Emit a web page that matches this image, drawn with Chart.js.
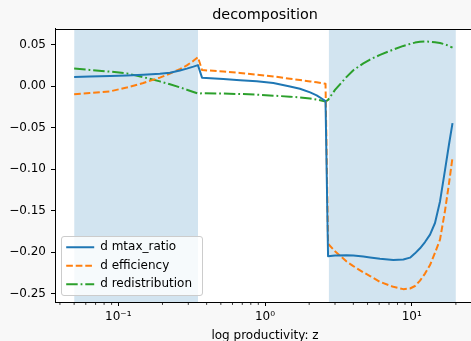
<!DOCTYPE html>
<html><head><meta charset="utf-8">
<script src="https://cdn.jsdelivr.net/npm/chart.js@4.4.1/dist/chart.umd.min.js"></script>
<style>
html,body{margin:0;padding:0;overflow:hidden;background:#f8f8f8;width:471px;height:341px}
canvas{display:block}
</style>
</head><body>
<canvas id="c" width="480" height="345"></canvas>
<script>
// ---- data ----
const zValues = [0.05, 0.064, 0.088, 0.114, 0.148, 0.192, 0.225, 0.263, 0.293, 0.325, 0.349, 0.372,
  0.52, 0.676, 0.878, 1.14, 1.48, 1.73, 2.03, 2.25, 2.585, 2.69, 3.0, 3.6, 4.0, 4.68, 5.2, 6.08,
  7.49, 8.77, 9.74, 10.53, 11.39, 12.32, 13.33, 14.41, 15.59, 16.87, 17.96, 18.97];
const mtaxRatio = [0.0112, 0.0116, 0.0122, 0.0128, 0.0138, 0.0150, 0.0162, 0.0190, 0.0212, 0.0236, 0.0255, 0.0103,
  0.0086, 0.0073, 0.0060, 0.0038, -0.0003, -0.0030, -0.0075, -0.0110, -0.0178, -0.2050, -0.2042, -0.2038, -0.2042, -0.2055, -0.2065, -0.2080,
  -0.2096, -0.2090, -0.2068, -0.2016, -0.1955, -0.1880, -0.1790, -0.1650, -0.1390, -0.1010, -0.0700, -0.0445];
const efficiency = [-0.0096, -0.0082, -0.0062, -0.0016, 0.0038, 0.0104, 0.0152, 0.0206, 0.0251, 0.0306, 0.0350, 0.0195,
  0.0177, 0.0160, 0.0140, 0.0118, 0.0090, 0.0075, 0.0058, 0.0048, 0.0030, -0.1900, -0.1990, -0.2115, -0.2170, -0.2245, -0.2290, -0.2360,
  -0.2420, -0.2448, -0.2440, -0.2410, -0.2345, -0.2260, -0.2157, -0.2010, -0.1850, -0.1500, -0.1170, -0.0860];
const redistribution = [0.0213, 0.0197, 0.0176, 0.0155, 0.0109, 0.0058, 0.0023, -0.0014, -0.0042, -0.0069, -0.0088, -0.0086,
  -0.0089, -0.0094, -0.0102, -0.0114, -0.0126, -0.0136, -0.0148, -0.0160, -0.0185, -0.0165, -0.0045, 0.0113, 0.0193, 0.0275, 0.0322, 0.0378,
  0.0442, 0.0486, 0.0510, 0.0526, 0.0535, 0.0539, 0.0537, 0.0531, 0.0522, 0.0505, 0.0486, 0.0466];
const seriesLabels = ['d mtax_ratio', 'd efficiency', 'd redistribution'];
const bandRanges = [[0.05, 0.35], [2.718, 20]];
const xMajorTicks = [0.1, 1, 10];
const xTickLabels = ['10\u207B\u00B9', '10\u2070', '10\u00B9'];
const xMinorTicks = [0.04, 0.05, 0.06, 0.07, 0.08, 0.09, 0.2, 0.3, 0.4, 0.5, 0.6, 0.7, 0.8, 0.9,
  2, 3, 4, 5, 6, 7, 8, 9, 20];
const yTicks = [0.05, 0, -0.05, -0.1, -0.15, -0.2, -0.25];
const yTickLabels = ['0.05', '0.00', '\u22120.05', '\u22120.10', '\u22120.15', '\u22120.20', '\u22120.25'];
const xMin = 0.03702, xMax = 27.0, yMin = -0.2603, yMax = 0.0694;
const titleText = 'decomposition';
const xTitle = 'log productivity: z';

// ---- chart ----
Chart.defaults.font.family = 'DejaVu Sans';
Chart.defaults.color = '#000';
const pts = arr => zValues.map((z, i) => ({x: z, y: arr[i]}));
const lineDs = (label, arr, color, dash) => ({
  label, data: pts(arr), borderColor: color, backgroundColor: color, borderWidth: 2,
  borderDash: dash, borderCapStyle: 'butt', borderJoinStyle: 'round',
  pointRadius: 0, pointStyle: 'line', fill: false, tension: 0
});
const bandDs = r => ({
  label: '_band', data: [{x: r[0], y: yMax}, {x: r[1], y: yMax}],
  borderWidth: 0, borderColor: 'rgba(0,0,0,0)', backgroundColor: 'rgba(31,119,180,0.2)',
  pointRadius: 0, fill: 'start', tension: 0
});

const decor = {
  id: 'decor',
  beforeLayout(chart) {
    const lg = chart.legend;
    if (lg) lg._layers = function () { return [{z: 1, draw: (ca) => lg.draw(ca)}]; };
  },
  afterLayout(chart) {
    const lg = chart.legend;
    if (!lg) return;
    lg.left = 59.7; lg.top = 234.8; lg.right = 215; lg.bottom = 305;
  },
  beforeDraw(chart) {
    const {ctx, chartArea: a} = chart;
    ctx.save();
    ctx.fillStyle = '#f8f8f8';
    ctx.fillRect(0, 0, chart.width, chart.height);
    ctx.fillStyle = '#ffffff';
    ctx.fillRect(a.left, a.top, a.right - a.left, a.bottom - a.top);
    ctx.restore();
  },
  afterDatasetsDraw(chart) {
    const ctx = chart.ctx;
    ctx.save();
    ctx.beginPath();
    ctx.roundRect(61.5, 236.5, 141, 59, 2.5);
    ctx.fillStyle = 'rgba(255,255,255,0.8)';
    ctx.fill();
    ctx.strokeStyle = '#cccccc';
    ctx.lineWidth = 1;
    ctx.stroke();
    ctx.restore();
  },
  afterDraw(chart) {
    const {ctx, chartArea: a} = chart;
    const xs = chart.scales.x;
    ctx.save();
    ctx.strokeStyle = '#000';
    ctx.lineWidth = 0.8;
    const yb = Math.round(a.bottom) + 0.5;
    xMinorTicks.forEach(v => {
      const px = xs.getPixelForValue(v);
      if (px < a.left || px > a.right) return;
      ctx.beginPath();
      ctx.moveTo(px, yb);
      ctx.lineTo(px, yb + 2.4);
      ctx.stroke();
    });
    ctx.lineWidth = 1;
    const yt = Math.round(a.top) + 0.5;
    ctx.beginPath();
    ctx.moveTo(Math.round(a.left) + 0.5, yt);
    ctx.lineTo(Math.round(a.right) + 0.5, yt);
    ctx.lineTo(Math.round(a.right) + 0.5, yb);
    ctx.stroke();
    ctx.restore();
  }
};

new Chart(document.getElementById('c'), {
  type: 'line',
  data: {
    datasets: [
      lineDs(seriesLabels[0], mtaxRatio, '#1f77b4', []),
      lineDs(seriesLabels[1], efficiency, '#ff7f0e', [6.66, 2.88]),
      lineDs(seriesLabels[2], redistribution, '#2ca02c', [11.5, 2.9, 1.8, 2.9]),
      bandDs(bandRanges[0]),
      bandDs(bandRanges[1])
    ]
  },
  options: {
    responsive: false, animation: false, devicePixelRatio: 1, events: [],
    layout: {padding: {left: 0, right: 5, top: 0, bottom: 0}},
    scales: {
      x: {
        type: 'logarithmic', min: xMin, max: xMax,
        afterFit(s) { s.height = 43; },
        afterBuildTicks(s) { s.ticks = xMajorTicks.map(v => ({value: v})); },
        ticks: {
          autoSkip: false, maxRotation: 0, padding: 3.5,
          font: {size: 12}, color: '#000',
          callback: (v) => { const i = xMajorTicks.indexOf(v); return i >= 0 ? xTickLabels[i] : ''; }
        },
        grid: {drawOnChartArea: false, drawTicks: true, tickLength: 4, tickColor: '#000', tickWidth: 1},
        border: {display: true, color: '#000', width: 1},
        title: {display: true, text: xTitle, font: {size: 12}, color: '#000', padding: {top: 0, bottom: 1.9}}
      },
      y: {
        type: 'linear', min: yMin, max: yMax,
        afterFit(s) { s.width = 55; },
        afterBuildTicks(s) { s.ticks = yTicks.map(v => ({value: v})); },
        ticks: {
          autoSkip: false, padding: 5, font: {size: 12}, color: '#000',
          callback: (v) => { const i = yTicks.indexOf(v); return i >= 0 ? yTickLabels[i] : ''; }
        },
        grid: {drawOnChartArea: false, drawTicks: true, tickLength: 4, tickColor: '#000', tickWidth: 1},
        border: {display: true, color: '#000', width: 1}
      }
    },
    plugins: {
      tooltip: {enabled: false},
      title: {
        display: true, text: titleText, fullSize: false, color: '#000',
        font: {size: 14.4, weight: 'normal'}, padding: {top: 7, bottom: 4.4}
      },
      legend: {
        display: true, position: 'chartArea', align: 'start',
        labels: {
          usePointStyle: true, pointStyleWidth: 28, padding: 6.5, color: '#000',
          font: {size: 12},
          filter: (item) => item.text !== '_band',
          generateLabels: (chart) => {
            const items = Chart.defaults.plugins.legend.labels.generateLabels(chart);
            return items.map(it => {
              const ds = chart.data.datasets[it.datasetIndex];
              it.lineDash = ds.borderDash; it.lineWidth = ds.borderWidth;
              it.strokeStyle = ds.borderColor; it.pointStyle = 'line'; it.lineCap = 'butt';
              return it;
            });
          }
        }
      }
    }
  },
  plugins: [decor]
});
</script>
</body></html>
